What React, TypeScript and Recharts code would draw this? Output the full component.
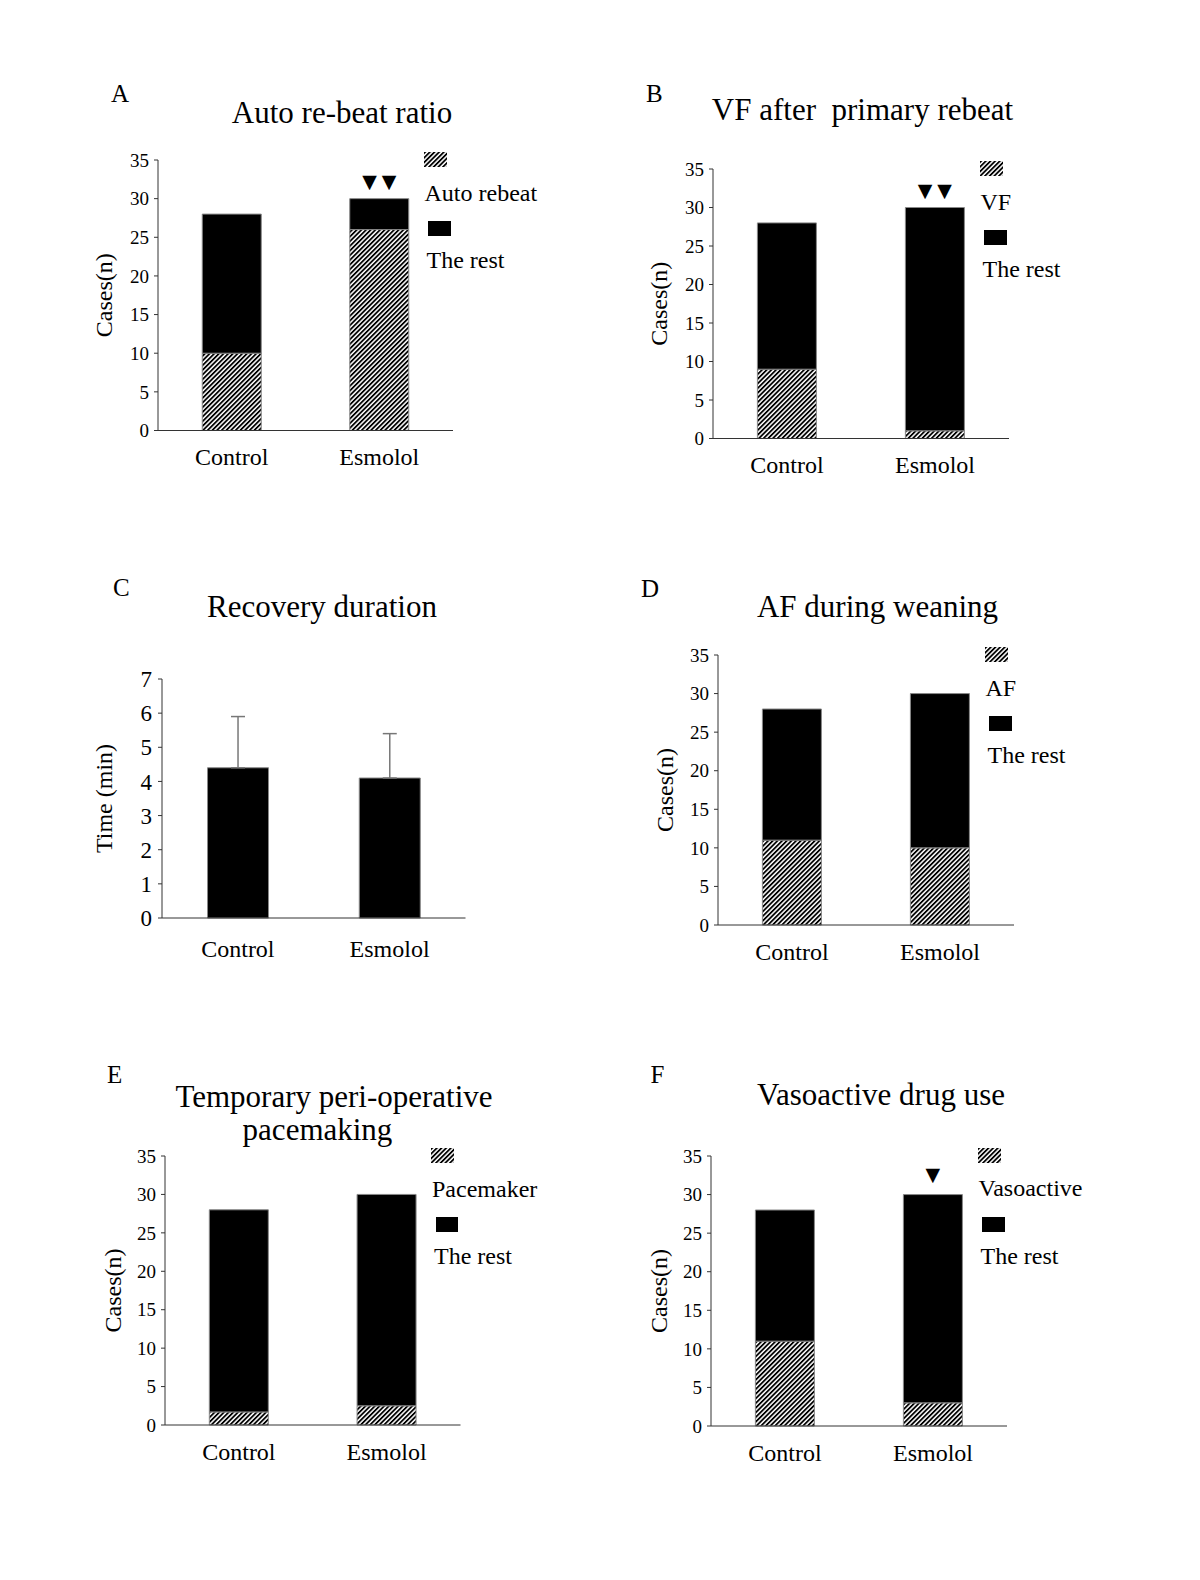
import React from 'react';
import { BarChart, Bar, XAxis, YAxis, ErrorBar, LabelList, Legend } from 'recharts';

const FONT = '"Liberation Serif", "Times New Roman", serif';

const groups = ['Control', 'Esmolol'];

// A: auto re-beat
const autoRebeat = [10, 26];
const autoRest = [18, 4];
const autoMarks = ['', '▼▼'];

// B: VF after primary rebeat
const vfCases = [9, 1];
const vfRest = [19, 29];
const vfMarks = ['', '▼▼'];

// C: recovery duration (min), only the upper whisker is drawn
const recoveryMean = [4.4, 4.1];
const recoverySd = [1.5, 1.3];

// D: AF during weaning
const afCases = [11, 10];
const afRest = [17, 20];

// E: temporary pacemaking
const paceCases = [1.7, 2.5];
const paceRest = [26.3, 27.5];

// F: vasoactive drug use
const vasoCases = [11, 3];
const vasoRest = [17, 27];
const vasoMarks = ['', '▼'];

const casesTicks = [0, 5, 10, 15, 20, 25, 30, 35];
const timeTicks = [0, 1, 2, 3, 4, 5, 6, 7];

type Plot = { left: number; top: number; width: number; height: number };

function Txt({ x, y, size, anchor = 'start', children }: { x: number; y: number; size: number; anchor?: 'start' | 'middle'; children: React.ReactNode }) {
  const style: React.CSSProperties = {
    position: 'absolute',
    top: y - 0.8375 * size,
    fontSize: size,
    lineHeight: `${size}px`,
    fontFamily: FONT,
    color: '#000',
    whiteSpace: 'pre',
  };
  if (anchor === 'middle') {
    style.left = x - 400;
    style.width = 800;
    style.textAlign = 'center';
  } else {
    style.left = x;
  }
  return <div style={style}>{children}</div>;
}

function Hatch({ id }: { id: string }) {
  return (
    <pattern id={id} patternUnits="userSpaceOnUse" width={3.3} height={3.3} patternTransform="rotate(45)">
      <rect width={3.3} height={3.3} fill="#fff" />
      <rect width={1.8} height={3.3} fill="#000" />
    </pattern>
  );
}

const markLabel = (lift: number) => (props: any) => {
  const { x, y, width, value } = props;
  const chars = Array.from(String(value ?? ''));
  if (!chars.length) return null;
  const cx = Number(x) + Number(width) / 2;
  const cy = Number(y) - lift;
  return (
    <g>
      {chars.map((c, i) => (
        <text
          key={i}
          x={cx + (i - (chars.length - 1) / 2) * 19.5}
          y={cy}
          textAnchor="middle"
          dominantBaseline="central"
          fontSize={19}
          fontFamily='"DejaVu Sans", sans-serif'
          fill="#000"
        >
          {c}
        </text>
      ))}
    </g>
  );
};

const legendContent = (id: string) => (props: any) => {
  const items = [...(props.payload ?? [])].sort(
    (a: any, b: any) => (a.dataKey === 'part' ? 0 : 1) - (b.dataKey === 'part' ? 0 : 1)
  );
  const lbl = (text: string, left: number, baseline: number) => (
    <div
      style={{
        position: 'absolute',
        left,
        top: baseline - 20.1,
        fontSize: 24,
        lineHeight: '24px',
        fontFamily: FONT,
        whiteSpace: 'nowrap',
        color: '#000',
      }}
    >
      {text}
    </div>
  );
  return (
    <div style={{ position: 'relative', width: 140, height: 130 }}>
      <svg width={24} height={16} style={{ position: 'absolute', left: 0, top: 0 }}>
        <defs>
          <Hatch id={`${id}-sw`} />
        </defs>
        <rect x={0} y={0} width={23} height={15} fill={`url(#${id}-sw)`} />
      </svg>
      {items[0] && lbl(String(items[0].value), 1, 49)}
      <div style={{ position: 'absolute', left: 4.5, top: 69, width: 22.5, height: 15, background: '#000' }} />
      {items[1] && lbl(String(items[1].value), 3, 116.5)}
    </div>
  );
};

const axisStroke = '#333';

function StackPanel({
  id, plot, labelX, part, rest, partName, marks, markLift = 18,
}: {
  id: string; plot: Plot; labelX: number; part: number[]; rest: number[]; partName: string; marks?: string[]; markLift?: number;
}) {
  const data = groups.map((g, i) => ({ group: g, part: part[i], rest: rest[i], mark: marks ? marks[i] : '' }));
  const left = plot.left - 80;
  const top = plot.top - 40;
  const width = plot.width + 80 + 130;
  const height = plot.height + 40 + 51;
  const hatchId = `hatch-${id}`;
  return (
    <div style={{ position: 'absolute', left, top }}>
      <BarChart width={width} height={height} data={data} margin={{ top: 40, right: 130, bottom: 0, left: 20 }} barCategoryGap="30%">
        <defs>
          <Hatch id={hatchId} />
        </defs>
        <XAxis
          xAxisId="edge"
          type="number"
          domain={[0, 2]}
          ticks={[0, 1, 2]}
          allowDataOverflow
          tick={false}
          axisLine={false}
          tickLine={{ stroke: axisStroke }}
          mirror
          tickSize={5}
          height={1}
        />
        <XAxis
          xAxisId="cat"
          dataKey="group"
          interval={0}
          axisLine={{ stroke: axisStroke }}
          tickLine={false}
          tickSize={0}
          tickMargin={17.5}
          height={50}
          tick={{ fontSize: 24, fill: '#000', fontFamily: FONT }}
        />
        <YAxis
          domain={[0, 35]}
          ticks={casesTicks}
          interval={0}
          width={60}
          tickSize={4}
          tickMargin={5}
          axisLine={{ stroke: axisStroke }}
          tickLine={{ stroke: axisStroke }}
          tick={{ fontSize: 19, fill: '#000', fontFamily: FONT }}
          label={{
            value: 'Cases(n)',
            angle: -90,
            position: 'insideLeft',
            offset: labelX - (plot.left - 60),
            style: { textAnchor: 'middle', fontSize: 24, fill: '#000', fontFamily: FONT },
          }}
        />
        <Legend
          layout="horizontal"
          verticalAlign="middle"
          align="center"
          wrapperStyle={{ left: plot.width + 80 - 29, top: 32, width: 140, height: 130 }}
          content={legendContent(id)}
        />
        <Bar xAxisId="cat" dataKey="part" name={partName} stackId="s" fill={`url(#${hatchId})`} stroke="#888" strokeWidth={1} isAnimationActive={false} />
        <Bar xAxisId="cat" dataKey="rest" name="The rest" stackId="s" fill="#000" stroke="#888" strokeWidth={1} isAnimationActive={false}>
          <LabelList dataKey="mark" content={markLabel(markLift)} />
        </Bar>
      </BarChart>
    </div>
  );
}

function TimePanel({ plot, labelX }: { plot: Plot; labelX: number }) {
  const data = groups.map((g, i) => ({ group: g, mean: recoveryMean[i], err: [0, recoverySd[i]] }));
  const left = plot.left - 80;
  const top = plot.top - 40;
  const width = plot.width + 80 + 20;
  const height = plot.height + 40 + 51;
  return (
    <div style={{ position: 'absolute', left, top }}>
      <BarChart width={width} height={height} data={data} margin={{ top: 40, right: 20, bottom: 0, left: 20 }} barCategoryGap="30%">
        <XAxis
          xAxisId="edge"
          type="number"
          domain={[0, 2]}
          ticks={[0, 1, 2]}
          allowDataOverflow
          tick={false}
          axisLine={false}
          tickLine={{ stroke: axisStroke }}
          mirror
          tickSize={5}
          height={1}
        />
        <XAxis
          xAxisId="cat"
          dataKey="group"
          interval={0}
          axisLine={{ stroke: axisStroke }}
          tickLine={false}
          tickSize={0}
          tickMargin={22}
          height={50}
          tick={{ fontSize: 24, fill: '#000', fontFamily: FONT }}
        />
        <YAxis
          domain={[0, 7]}
          ticks={timeTicks}
          interval={0}
          width={60}
          tickSize={4}
          tickMargin={6}
          axisLine={{ stroke: axisStroke }}
          tickLine={{ stroke: axisStroke }}
          tick={{ fontSize: 23, fill: '#000', fontFamily: FONT }}
          label={{
            value: 'Time (min)',
            angle: -90,
            position: 'insideLeft',
            offset: labelX - (plot.left - 60),
            style: { textAnchor: 'middle', fontSize: 24, fill: '#000', fontFamily: FONT },
          }}
        />
        <Bar xAxisId="cat" dataKey="mean" fill="#000" stroke="#888" strokeWidth={1} isAnimationActive={false}>
          <ErrorBar dataKey="err" width={7} stroke="#777" strokeWidth={1.5} />
        </Bar>
      </BarChart>
    </div>
  );
}

export default function App() {
  return (
    <div style={{ position: 'absolute', left: 0, top: 0, width: 1200, height: 1580, background: '#fff', overflow: 'hidden' }}>
      <Txt x={111} y={102} size={25}>A</Txt>
      <Txt x={342} y={123} size={31} anchor="middle">Auto re-beat ratio</Txt>
      <StackPanel id="a" plot={{ left: 157.5, top: 160, width: 295, height: 269.5 }} labelX={103} part={autoRebeat} rest={autoRest} partName="Auto rebeat" marks={autoMarks} />

      <Txt x={646} y={102} size={25}>B</Txt>
      <Txt x={862.5} y={120} size={31} anchor="middle">VF after  primary rebeat</Txt>
      <StackPanel id="b" plot={{ left: 712.5, top: 169, width: 296, height: 268.5 }} labelX={658} part={vfCases} rest={vfRest} partName="VF" marks={vfMarks} />

      <Txt x={113} y={596} size={25}>C</Txt>
      <Txt x={322} y={617} size={31} anchor="middle">Recovery duration</Txt>
      <TimePanel plot={{ left: 161.5, top: 678.5, width: 303.5, height: 238 }} labelX={103} />

      <Txt x={641} y={596.5} size={25}>D</Txt>
      <Txt x={877.5} y={617} size={31} anchor="middle">AF during weaning</Txt>
      <StackPanel id="d" plot={{ left: 717.5, top: 655, width: 296, height: 269 }} labelX={664} part={afCases} rest={afRest} partName="AF" />

      <Txt x={107} y={1083} size={25}>E</Txt>
      <Txt x={334} y={1107} size={31} anchor="middle">Temporary peri-operative</Txt>
      <Txt x={317.5} y={1140} size={31} anchor="middle">pacemaking</Txt>
      <StackPanel id="e" plot={{ left: 164.5, top: 1156, width: 295.5, height: 268 }} labelX={111.5} part={paceCases} rest={paceRest} partName="Pacemaker" />

      <Txt x={650.5} y={1083} size={25}>F</Txt>
      <Txt x={881} y={1105} size={31} anchor="middle">Vasoactive drug use</Txt>
      <StackPanel id="f" plot={{ left: 710.5, top: 1155.5, width: 296, height: 269 }} labelX={658} part={vasoCases} rest={vasoRest} partName="Vasoactive" marks={vasoMarks} markLift={21} />
    </div>
  );
}
